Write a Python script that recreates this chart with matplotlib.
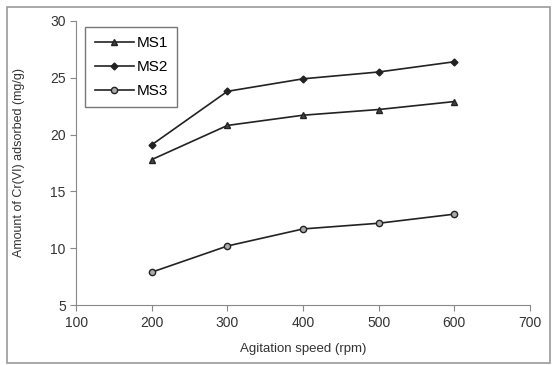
import matplotlib.pyplot as plt
from matplotlib.patches import Rectangle

plt.rcParams['font.family'] = ['Liberation Sans', 'DejaVu Sans']

speed = [200, 300, 400, 500, 600]
ms1 = [17.8, 20.8, 21.7, 22.2, 22.9]
ms2 = [19.1, 23.8, 24.9, 25.5, 26.4]
ms3 = [7.9, 10.2, 11.7, 12.2, 13.0]

fig = plt.figure(figsize=(5.52, 3.65), dpi=100)
ax = fig.add_axes([0.138, 0.164, 0.822, 0.779])

ax.plot(speed, ms1, color='#222222', lw=1.2, marker='^', ms=4.5, mfc='#444444', mec='#222222', label='MS1')
ax.plot(speed, ms2, color='#222222', lw=1.2, marker='D', ms=3.5, mfc='#222222', mec='#222222', label='MS2')
ax.plot(speed, ms3, color='#222222', lw=1.2, marker='o', ms=4.5, mfc='#aaaaaa', mec='#222222', label='MS3')

ax.set_xlim(100, 700)
ax.set_ylim(5, 30)
ax.set_xticks([100, 200, 300, 400, 500, 600, 700])
ax.set_yticks([5, 10, 15, 20, 25, 30])
ax.spines['top'].set_visible(False)
ax.spines['right'].set_visible(False)
ax.spines['left'].set_color('#888888')
ax.spines['bottom'].set_color('#888888')
ax.tick_params(direction='out', length=4, color='#888888', labelsize=10, labelcolor='#333333')

ax.set_xlabel('Agitation speed (rpm)', fontsize=9.5, color='#333333', labelpad=10)
ax.set_ylabel('Amount of Cr(VI) adsorbed (mg/g)', fontsize=9, color='#333333', labelpad=18)

leg = ax.legend(loc='upper left', bbox_to_anchor=(0.0, 1.01), fontsize=11, frameon=True,
                fancybox=False, edgecolor='#555555', handlelength=2.6, handletextpad=0.15,
                labelspacing=0.65, borderpad=0.6, borderaxespad=0.6)
leg.get_frame().set_linewidth(1.0)

fig.patches.append(Rectangle((0.012, 0.006), 0.985, 0.976, transform=fig.transFigure,
                             fill=False, edgecolor='#999999', lw=1.2))

fig.savefig('out.png', dpi=100)
